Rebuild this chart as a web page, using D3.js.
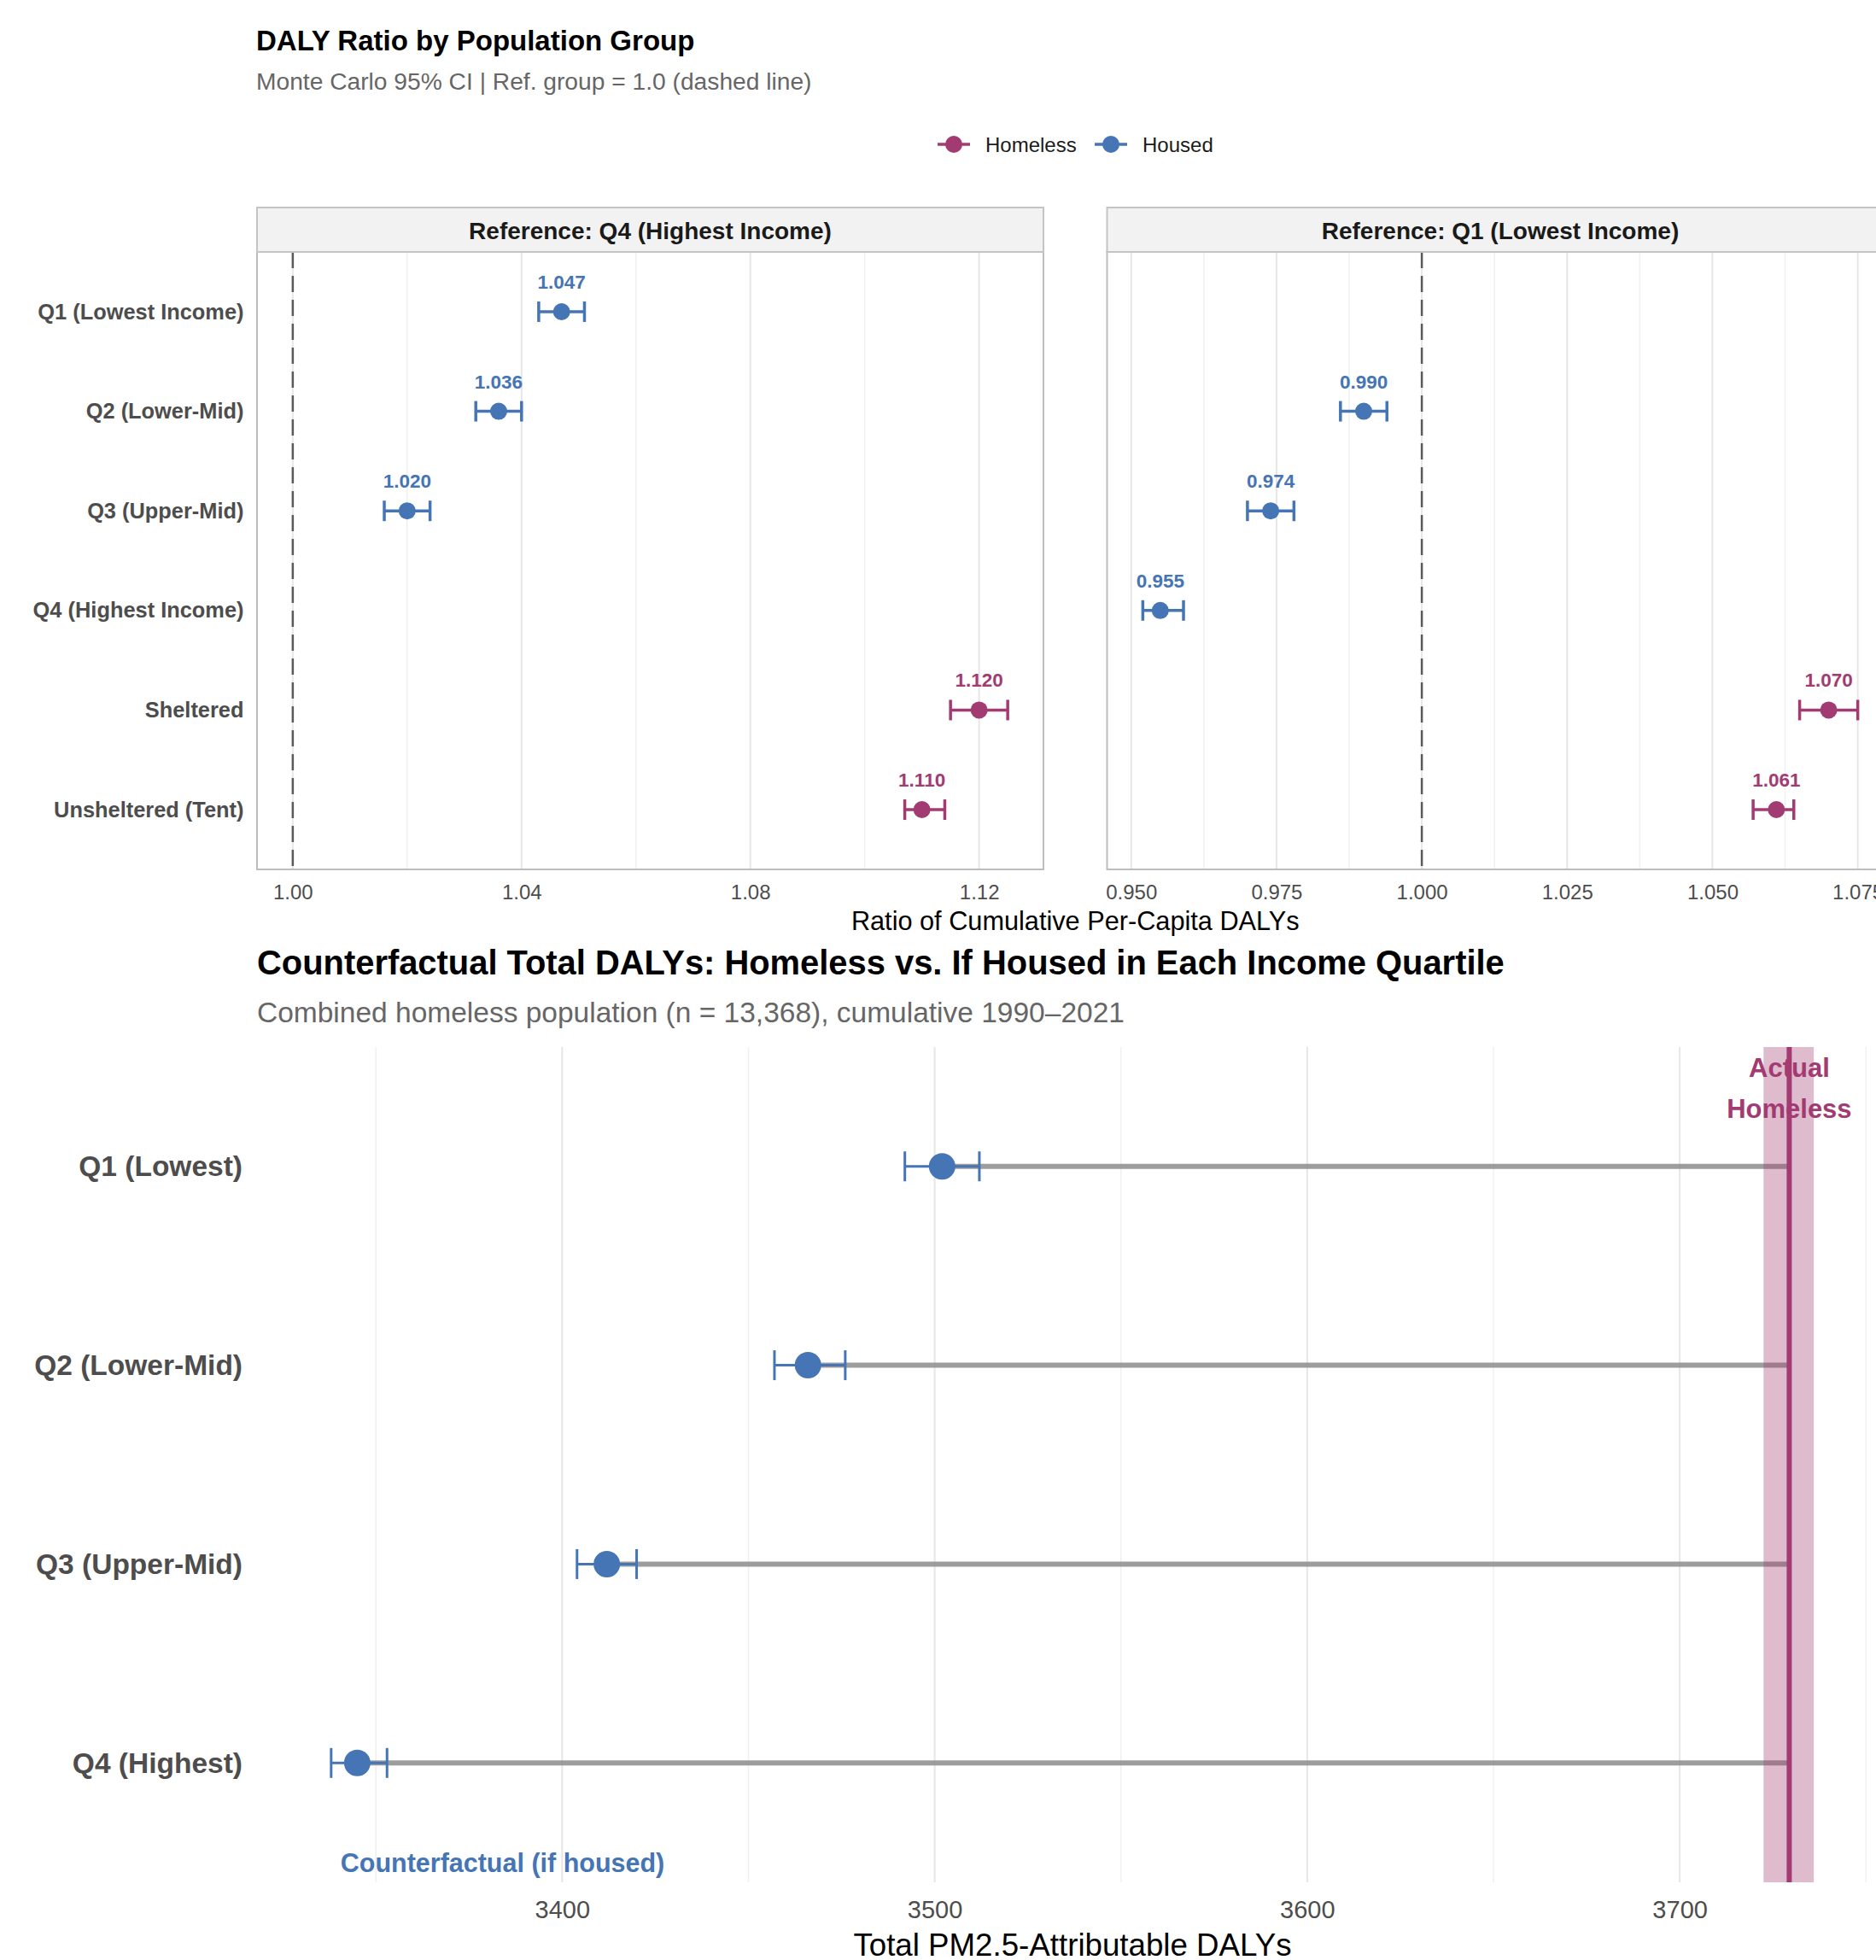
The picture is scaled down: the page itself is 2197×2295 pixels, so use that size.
<!DOCTYPE html>
<html>
<head>
<meta charset="utf-8">
<script src="https://cdn.jsdelivr.net/npm/d3@7"></script>
<style>
  body { margin: 0; background: #fff; }
  text { font-family: "Liberation Sans", Arial, Helvetica, sans-serif; }
</style>
</head>
<body>
<svg id="chart" width="2197" height="2295"></svg>
<script>
// ---- top chart: DALY ratio by group, two reference facets ----
var groups = [ "Q1 (Lowest Income)", "Q2 (Lower-Mid)", "Q3 (Upper-Mid)", "Q4 (Highest Income)", "Sheltered", "Unsheltered (Tent)" ];
var group_type = [ "Housed", "Housed", "Housed", "Housed", "Homeless", "Homeless" ];

var q4_ratio = [ 1.047, 1.036, 1.020, null, 1.120, 1.110 ];
var q4_lower = [ 1.043, 1.032, 1.016, null, 1.115, 1.107 ];
var q4_upper = [ 1.051, 1.040, 1.024, null, 1.125, 1.114 ];

var q1_ratio = [ null, 0.990, 0.974, 0.955, 1.070, 1.061 ];
var q1_lower = [ null, 0.986, 0.970, 0.952, 1.065, 1.057 ];
var q1_upper = [ null, 0.994, 0.978, 0.959, 1.075, 1.064 ];

var facet_titles = [ "Reference: Q4 (Highest Income)", "Reference: Q1 (Lowest Income)" ];
var q4_ticks = [ 1.00, 1.04, 1.08, 1.12 ];
var q1_ticks = [ 0.950, 0.975, 1.000, 1.025, 1.050, 1.075 ];
var ref_value = 1.0;

var legend_keys = [ "Homeless", "Housed" ];

// ---- bottom chart: counterfactual total DALYs ----
var quartiles = [ "Q1 (Lowest)", "Q2 (Lower-Mid)", "Q3 (Upper-Mid)", "Q4 (Highest)" ];
var cf_dalys = [ 3502, 3466, 3412, 3345 ];
var cf_lower = [ 3492, 3457, 3404, 3338 ];
var cf_upper = [ 3512, 3476, 3420, 3353 ];
var actual_dalys = 3729.4;
var actual_lower = 3722.5;
var actual_upper = 3736;
var daly_ticks = [ 3400, 3500, 3600, 3700 ];
var cf_label_x = 3384;

var COLOR = { Homeless: "#a23b72", Housed: "#4575b4" };
var FONT = "\"Liberation Sans\", Arial, sans-serif";

var svg = d3.select( "#chart" );

function expandDomain( values ){
  var ext = d3.extent( values );
  var pad = ( ext[ 1 ] - ext[ 0 ] ) * 0.05;
  return [ ext[ 0 ] - pad, ext[ 1 ] + pad ];
}

function minorTicks( ticks, domain ){
  var step = ticks[ 1 ] - ticks[ 0 ];
  var out = [];
  for( var i = -1 ; i < ticks.length ; i++ ){
    var v = ticks[ 0 ] + step * ( i + 0.5 );
    if( v >= domain[ 0 ] && v <= domain[ 1 ] ) out.push( v );
  }
  return out;
}

// ---------- titles ----------
svg.append( "text" )
  .attr( "x", 300 ).attr( "y", 59 )
  .style( "font-size", "33px" ).style( "font-weight", "bold" ).style( "fill", "#000" )
  .text( "DALY Ratio by Population Group" );

svg.append( "text" )
  .attr( "x", 300 ).attr( "y", 105 )
  .style( "font-size", "28.2px" ).style( "fill", "#666" )
  .text( "Monte Carlo 95% CI | Ref. group = 1.0 (dashed line)" );

// ---------- legend ----------
var legend_x = [ 1117, 1301 ];
legend_keys.forEach( function( key, i ){
  var g = svg.append( "g" ).attr( "transform", "translate(" + legend_x[ i ] + ",169)" );
  g.append( "line" )
    .attr( "x1", -19 ).attr( "x2", 19 )
    .attr( "stroke", COLOR[ key ] ).attr( "stroke-width", 3.5 );
  g.append( "circle" ).attr( "r", 10 ).attr( "fill", COLOR[ key ] );
  g.append( "text" )
    .attr( "x", 37 ).attr( "y", 8.5 )
    .style( "font-size", "24px" ).style( "fill", "#1a1a1a" )
    .text( key );
} );

// ---------- facets ----------
var facets = [
  { title: facet_titles[ 0 ], ratio: q4_ratio, lower: q4_lower, upper: q4_upper, ticks: q4_ticks, fmt: ".2f", x0: 301, x1: 1222 },
  { title: facet_titles[ 1 ], ratio: q1_ratio, lower: q1_lower, upper: q1_upper, ticks: q1_ticks, fmt: ".3f", x0: 1296.5, x1: 2217.5 }
];

var panel_top = 295, panel_bottom = 1018, strip_top = 243;

var y_top = d3.scalePoint()
  .domain( groups )
  .range( [ panel_top, panel_bottom ] )
  .padding( 0.6 );

facets.forEach( function( f, fi ){
  var vals = [ ref_value ];
  f.lower.forEach( function( v ){ if( v != null ) vals.push( v ); } );
  f.upper.forEach( function( v ){ if( v != null ) vals.push( v ); } );
  var domain = expandDomain( vals );

  var x = d3.scaleLinear().domain( domain ).range( [ f.x0, f.x1 ] );
  var g = svg.append( "g" ).classed( "facet", true );

  // grid
  g.selectAll( "line.minor" )
    .data( minorTicks( f.ticks, domain ) )
    .enter().append( "line" )
    .attr( "x1", function( d ){ return x( d ); } )
    .attr( "x2", function( d ){ return x( d ); } )
    .attr( "y1", panel_top ).attr( "y2", panel_bottom )
    .attr( "stroke", "#f0f0f0" ).attr( "stroke-width", 1.5 );

  g.selectAll( "line.major" )
    .data( f.ticks )
    .enter().append( "line" )
    .attr( "x1", function( d ){ return x( d ); } )
    .attr( "x2", function( d ){ return x( d ); } )
    .attr( "y1", panel_top ).attr( "y2", panel_bottom )
    .attr( "stroke", "#e6e6e6" ).attr( "stroke-width", 2 );

  // reference line
  g.append( "line" )
    .attr( "x1", x( ref_value ) ).attr( "x2", x( ref_value ) )
    .attr( "y1", panel_top ).attr( "y2", panel_bottom )
    .attr( "stroke", "#5a5a5a" ).attr( "stroke-width", 2.5 )
    .attr( "stroke-dasharray", "19,9" );

  var rows = [];
  groups.forEach( function( name, i ){
    if( f.ratio[ i ] == null ) return;
    rows.push( { name: name, type: group_type[ i ], ratio: f.ratio[ i ], lower: f.lower[ i ], upper: f.upper[ i ] } );
  } );

  var bars = g.selectAll( "g.bar" ).data( rows ).enter().append( "g" );

  bars.append( "line" )
    .attr( "x1", function( d ){ return x( d.lower ); } )
    .attr( "x2", function( d ){ return x( d.upper ); } )
    .attr( "y1", function( d ){ return y_top( d.name ); } )
    .attr( "y2", function( d ){ return y_top( d.name ); } )
    .attr( "stroke", function( d ){ return COLOR[ d.type ]; } )
    .attr( "stroke-width", 3.5 );

  [ "lower", "upper" ].forEach( function( k ){
    bars.append( "line" )
      .attr( "x1", function( d ){ return x( d[ k ] ); } )
      .attr( "x2", function( d ){ return x( d[ k ] ); } )
      .attr( "y1", function( d ){ return y_top( d.name ) - 12; } )
      .attr( "y2", function( d ){ return y_top( d.name ) + 12; } )
      .attr( "stroke", function( d ){ return COLOR[ d.type ]; } )
      .attr( "stroke-width", 3.5 );
  } );

  bars.append( "circle" )
    .attr( "cx", function( d ){ return x( d.ratio ); } )
    .attr( "cy", function( d ){ return y_top( d.name ); } )
    .attr( "r", 10 )
    .attr( "fill", function( d ){ return COLOR[ d.type ]; } );

  bars.append( "text" )
    .attr( "x", function( d ){ return x( d.ratio ); } )
    .attr( "y", function( d ){ return y_top( d.name ) - 27; } )
    .attr( "text-anchor", "middle" )
    .style( "font-size", "22.5px" ).style( "font-weight", "bold" )
    .style( "fill", function( d ){ return COLOR[ d.type ]; } )
    .text( function( d ){ return d3.format( ".3f" )( d.ratio ); } );

  // border + strip
  g.append( "rect" )
    .attr( "x", f.x0 ).attr( "y", panel_top )
    .attr( "width", f.x1 - f.x0 ).attr( "height", panel_bottom - panel_top )
    .attr( "fill", "none" ).attr( "stroke", "#bdbdbd" ).attr( "stroke-width", 2 );

  g.append( "rect" )
    .attr( "x", f.x0 ).attr( "y", strip_top )
    .attr( "width", f.x1 - f.x0 ).attr( "height", panel_top - strip_top )
    .attr( "fill", "#f2f2f2" ).attr( "stroke", "#c4c4c4" ).attr( "stroke-width", 2 );

  g.append( "text" )
    .attr( "x", ( f.x0 + f.x1 ) / 2 ).attr( "y", 280 )
    .attr( "text-anchor", "middle" )
    .style( "font-size", "28px" ).style( "font-weight", "bold" ).style( "fill", "#1a1a1a" )
    .text( f.title );

  // x axis
  var ax = g.append( "g" )
    .attr( "transform", "translate(0," + panel_bottom + ")" )
    .call( d3.axisBottom( x ).tickValues( f.ticks ).tickFormat( d3.format( f.fmt ) ).tickSize( 0 ).tickPadding( 18 ) );
  ax.select( ".domain" ).remove();
  ax.selectAll( "text" )
    .style( "font-family", FONT ).style( "font-size", "24px" ).style( "fill", "#4d4d4d" );

  // y axis on first facet only
  if( fi == 0 ){
    var ay = g.append( "g" )
      .attr( "transform", "translate(" + f.x0 + ",0)" )
      .call( d3.axisLeft( y_top ).tickSize( 0 ).tickPadding( 15.5 ) );
    ay.select( ".domain" ).remove();
    ay.selectAll( "text" )
      .style( "font-family", FONT ).style( "font-size", "25.4px" )
      .style( "font-weight", "bold" ).style( "fill", "#4d4d4d" );
  }
} );

svg.append( "text" )
  .attr( "x", ( facets[ 0 ].x0 + facets[ 1 ].x1 ) / 2 ).attr( "y", 1089 )
  .attr( "text-anchor", "middle" )
  .style( "font-size", "30.7px" ).style( "fill", "#000" )
  .text( "Ratio of Cumulative Per-Capita DALYs" );

// ---------- bottom chart ----------
svg.append( "text" )
  .attr( "x", 301 ).attr( "y", 1141 )
  .style( "font-size", "39.9px" ).style( "font-weight", "bold" ).style( "fill", "#000" )
  .text( "Counterfactual Total DALYs: Homeless vs. If Housed in Each Income Quartile" );

svg.append( "text" )
  .attr( "x", 301 ).attr( "y", 1197 )
  .style( "font-size", "33.5px" ).style( "fill", "#666" )
  .text( "Combined homeless population (n = 13,368), cumulative 1990\u20132021" );

var b_left = 301, b_right = 2211, b_top = 1226, b_bottom = 2204;

var b_domain = expandDomain( cf_lower.concat( cf_upper, [ actual_lower, actual_upper ] ) );
var xb = d3.scaleLinear().domain( b_domain ).range( [ b_left, b_right ] );
var yb = d3.scalePoint().domain( quartiles ).range( [ b_top, b_bottom ] ).padding( 0.6 );
var b_step = yb.step();

var gb = svg.append( "g" ).classed( "counterfactual", true );

gb.selectAll( "line.minor" )
  .data( minorTicks( daly_ticks, b_domain ) )
  .enter().append( "line" )
  .attr( "x1", function( d ){ return xb( d ); } )
  .attr( "x2", function( d ){ return xb( d ); } )
  .attr( "y1", b_top ).attr( "y2", b_bottom )
  .attr( "stroke", "#f0f0f0" ).attr( "stroke-width", 1.5 );

gb.selectAll( "line.major" )
  .data( daly_ticks )
  .enter().append( "line" )
  .attr( "x1", function( d ){ return xb( d ); } )
  .attr( "x2", function( d ){ return xb( d ); } )
  .attr( "y1", b_top ).attr( "y2", b_bottom )
  .attr( "stroke", "#e6e6e6" ).attr( "stroke-width", 2 );

var cf_rows = quartiles.map( function( q, i ){
  return { name: q, value: cf_dalys[ i ], lower: cf_lower[ i ], upper: cf_upper[ i ] };
} );

// connector to actual value
gb.selectAll( "line.seg" )
  .data( cf_rows )
  .enter().append( "line" )
  .attr( "x1", function( d ){ return xb( d.value ); } )
  .attr( "x2", xb( actual_dalys ) )
  .attr( "y1", function( d ){ return yb( d.name ); } )
  .attr( "y2", function( d ){ return yb( d.name ); } )
  .attr( "stroke", "#8c8c8c" ).attr( "stroke-opacity", 0.85 ).attr( "stroke-width", 6 );

var cfb = gb.selectAll( "g.cf" ).data( cf_rows ).enter().append( "g" );

cfb.append( "line" )
  .attr( "x1", function( d ){ return xb( d.lower ); } )
  .attr( "x2", function( d ){ return xb( d.upper ); } )
  .attr( "y1", function( d ){ return yb( d.name ); } )
  .attr( "y2", function( d ){ return yb( d.name ); } )
  .attr( "stroke", COLOR.Housed ).attr( "stroke-width", 3 );

[ "lower", "upper" ].forEach( function( k ){
  cfb.append( "line" )
    .attr( "x1", function( d ){ return xb( d[ k ] ); } )
    .attr( "x2", function( d ){ return xb( d[ k ] ); } )
    .attr( "y1", function( d ){ return yb( d.name ) - 17.5; } )
    .attr( "y2", function( d ){ return yb( d.name ) + 17.5; } )
    .attr( "stroke", COLOR.Housed ).attr( "stroke-width", 3 );
} );

cfb.append( "circle" )
  .attr( "cx", function( d ){ return xb( d.value ); } )
  .attr( "cy", function( d ){ return yb( d.name ); } )
  .attr( "r", 15.5 )
  .attr( "fill", COLOR.Housed );

// annotations
var actual_cy = yb( quartiles[ 0 ] ) - 0.4 * b_step;
svg.append( "text" )
  .attr( "x", xb( actual_dalys ) ).attr( "y", actual_cy - 12 )
  .attr( "text-anchor", "middle" )
  .style( "font-size", "31px" ).style( "font-weight", "bold" ).style( "fill", COLOR.Homeless )
  .text( "Actual" );
svg.append( "text" )
  .attr( "x", xb( actual_dalys ) ).attr( "y", actual_cy + 36 )
  .attr( "text-anchor", "middle" )
  .style( "font-size", "31px" ).style( "font-weight", "bold" ).style( "fill", COLOR.Homeless )
  .text( "Homeless" );

svg.append( "rect" )
  .attr( "x", xb( actual_lower ) ).attr( "y", b_top )
  .attr( "width", xb( actual_upper ) - xb( actual_lower ) ).attr( "height", b_bottom - b_top )
  .attr( "fill", COLOR.Homeless ).attr( "fill-opacity", 0.35 );

svg.append( "line" )
  .attr( "x1", xb( actual_dalys ) ).attr( "x2", xb( actual_dalys ) )
  .attr( "y1", b_top ).attr( "y2", b_bottom )
  .attr( "stroke", COLOR.Homeless ).attr( "stroke-width", 6 );

svg.append( "text" )
  .attr( "x", xb( cf_label_x ) ).attr( "y", yb( quartiles[ 3 ] ) + 0.5 * b_step + 11 )
  .attr( "text-anchor", "middle" )
  .style( "font-size", "30.5px" ).style( "font-weight", "bold" ).style( "fill", COLOR.Housed )
  .text( "Counterfactual (if housed)" );

// axes
var axb = gb.append( "g" )
  .attr( "transform", "translate(0," + b_bottom + ")" )
  .call( d3.axisBottom( xb ).tickValues( daly_ticks ).tickFormat( d3.format( "d" ) ).tickSize( 0 ).tickPadding( 21.5 ) );
axb.select( ".domain" ).remove();
axb.selectAll( "text" )
  .style( "font-family", FONT ).style( "font-size", "29px" ).style( "fill", "#4d4d4d" );

var ayb = gb.append( "g" )
  .attr( "transform", "translate(" + b_left + ",0)" )
  .call( d3.axisLeft( yb ).tickSize( 0 ).tickPadding( 17 ) );
ayb.select( ".domain" ).remove();
ayb.selectAll( "text" )
  .style( "font-family", FONT ).style( "font-size", "33.5px" )
  .style( "font-weight", "bold" ).style( "fill", "#4d4d4d" );

svg.append( "text" )
  .attr( "x", ( b_left + b_right ) / 2 ).attr( "y", 2290 )
  .attr( "text-anchor", "middle" )
  .style( "font-size", "36.7px" ).style( "fill", "#000" )
  .text( "Total PM2.5-Attributable DALYs" );
</script>
</body>
</html>
